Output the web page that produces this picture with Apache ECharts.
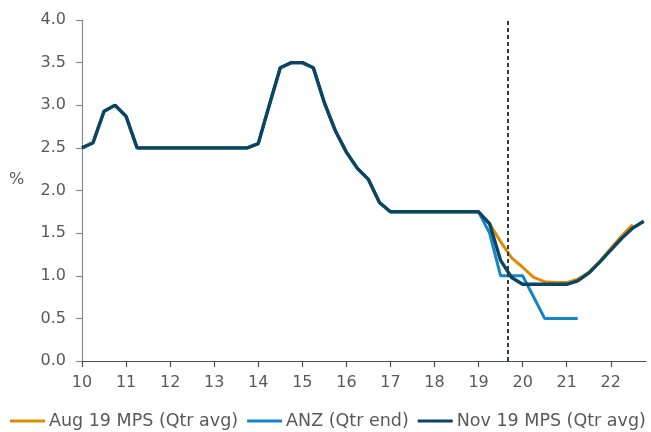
<!DOCTYPE html>
<html>
<head>
<meta charset="utf-8">
<script src="https://cdn.jsdelivr.net/npm/echarts@6/dist/echarts.min.js"></script>
<style>
  html, body { margin: 0; padding: 0; background: #ffffff; }
  #chart { width: 651px; height: 432px; }
</style>
</head>
<body>
<div id="chart"></div>
<script>
// Quarterly official cash rate track, 2010Q1 - 2022Q4 (years shown as 10..22)
const startYear = 10;
const endYear = 22;
const yearTicks = [10, 11, 12, 13, 14, 15, 16, 17, 18, 19, 20, 21, 22];

const seriesNames = ['Aug 19 MPS (Qtr avg)', 'ANZ (Qtr end)', 'Nov 19 MPS (Qtr avg)'];

const augMps = [
  2.50, 2.56, 2.93, 3.00,
  2.87, 2.50, 2.50, 2.50,
  2.50, 2.50, 2.50, 2.50,
  2.50, 2.50, 2.50, 2.50,
  2.55, 3.00, 3.44, 3.50,
  3.50, 3.44, 3.03, 2.70,
  2.45, 2.26, 2.13, 1.86,
  1.75, 1.75, 1.75, 1.75,
  1.75, 1.75, 1.75, 1.75,
  1.75, 1.61, 1.40, 1.21,
  1.10, 0.98, 0.93, 0.92,
  0.92, 0.96, 1.04, 1.17,
  1.32, 1.47, 1.60, null
];

const anz = [
  2.50, 2.56, 2.93, 3.00,
  2.87, 2.50, 2.50, 2.50,
  2.50, 2.50, 2.50, 2.50,
  2.50, 2.50, 2.50, 2.50,
  2.55, 3.00, 3.44, 3.50,
  3.50, 3.44, 3.03, 2.70,
  2.45, 2.26, 2.13, 1.86,
  1.75, 1.75, 1.75, 1.75,
  1.75, 1.75, 1.75, 1.75,
  1.75, 1.50, 1.00, 1.00,
  1.00, 0.75, 0.50, 0.50,
  0.50, 0.50, null, null,
  null, null, null, null
];

const novMps = [
  2.50, 2.56, 2.93, 3.00,
  2.87, 2.50, 2.50, 2.50,
  2.50, 2.50, 2.50, 2.50,
  2.50, 2.50, 2.50, 2.50,
  2.55, 3.00, 3.44, 3.50,
  3.50, 3.44, 3.03, 2.70,
  2.45, 2.26, 2.13, 1.86,
  1.75, 1.75, 1.75, 1.75,
  1.75, 1.75, 1.75, 1.75,
  1.75, 1.61, 1.18, 0.98,
  0.90, 0.90, 0.90, 0.90,
  0.90, 0.94, 1.03, 1.16,
  1.30, 1.44, 1.56, 1.64
];

// Position of the forecast start marker (decimal year)
const forecastStart = 19.66;

// Decimal year for each quarter (Q1 of a year sits on the year tick)
const quarterX = [];
for (let y = startYear; y <= endYear; y++) {
  for (let q = 0; q < 4; q++) quarterX.push(y + q / 4);
}
const pairs = vals => vals.map((v, i) => [quarterX[i], v]);

const colors = ['#e08a00', '#1287c8', '#0b4566'];
const textColor = '#595959';
const fontFamily = 'DejaVu Sans';

const chart = echarts.init(document.getElementById('chart'), null, { renderer: 'canvas' });

chart.setOption({
  animation: false,
  backgroundColor: '#ffffff',
  textStyle: { fontFamily: fontFamily, color: textColor },
  grid: { left: 82, right: 5, top: 20, bottom: 71, containLabel: false },
  legend: {
    data: seriesNames,
    left: 10,
    top: 412,
    padding: 0,
    icon: 'rect',
    itemWidth: 35,
    itemHeight: 3,
    itemGap: 9,
    textStyle: { fontFamily: fontFamily, fontSize: 17.5, color: textColor, padding: [0, 0, 0, -1] }
  },
  xAxis: {
    type: 'value',
    min: 10,
    max: 22.8,
    splitLine: { show: false },
    axisLine: { show: true, lineStyle: { color: '#4a4f55', width: 1.2 } },
    axisTick: {
      show: true, inside: false, length: 6,
      customValues: yearTicks,
      lineStyle: { color: '#4a4f55', width: 1.2 }
    },
    axisLabel: {
      customValues: yearTicks,
      margin: 14,
      fontSize: 16,
      color: textColor,
      fontFamily: fontFamily,
      formatter: v => String(v)
    }
  },
  yAxis: {
    type: 'value',
    min: 0,
    max: 4,
    interval: 0.5,
    splitLine: { show: false },
    axisLine: { show: true, lineStyle: { color: '#8a8a8a', width: 1.2 } },
    axisTick: { show: true, inside: false, length: 6, lineStyle: { color: '#8a8a8a', width: 1.2 } },
    axisLabel: {
      margin: 16,
      fontSize: 16,
      color: textColor,
      fontFamily: fontFamily,
      formatter: v => v.toFixed(1)
    }
  },
  graphic: [{
    type: 'text',
    left: 9,
    top: 172,
    style: { text: '%', fontSize: 16, fill: textColor, fontFamily: fontFamily }
  }],
  series: [
    {
      name: seriesNames[0],
      type: 'line',
      data: pairs(augMps),
      symbol: 'none',
      color: colors[0],
      lineStyle: { width: 3, color: colors[0] },
      z: 2
    },
    {
      name: seriesNames[1],
      type: 'line',
      data: pairs(anz),
      symbol: 'none',
      color: colors[1],
      lineStyle: { width: 3, color: colors[1] },
      z: 3
    },
    {
      name: seriesNames[2],
      type: 'line',
      data: pairs(novMps),
      symbol: 'none',
      color: colors[2],
      lineStyle: { width: 3.4, color: colors[2] },
      z: 4,
      markLine: {
        silent: true,
        symbol: ['none', 'none'],
        label: { show: false },
        lineStyle: { color: '#2f3a44', width: 2, type: [4, 3] },
        data: [{ xAxis: forecastStart }]
      }
    }
  ]
});
</script>
</body>
</html>
